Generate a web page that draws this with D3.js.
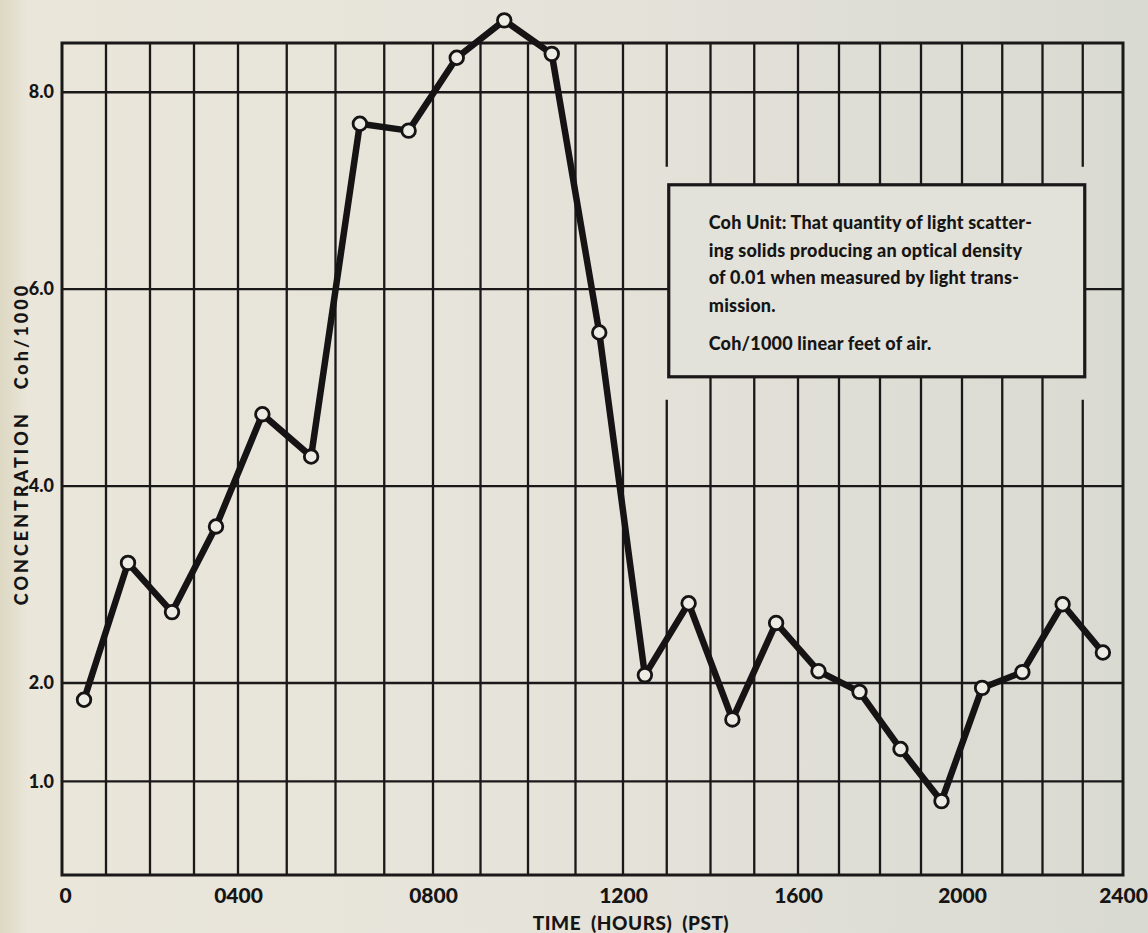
<!DOCTYPE html>
<html>
<head>
<meta charset="utf-8">
<script src="https://cdn.jsdelivr.net/npm/d3@7"></script>
<style>
  html, body { margin: 0; padding: 0; background: #e6e3da; }
  svg { display: block; }
  text { font-family: Lato, "DejaVu Sans", sans-serif; font-weight: 900; fill: #161515; }
</style>
</head>
<body>
<svg id="chart" width="1148" height="933"></svg>
<script>
// Hourly mean smoke concentration (Coh per 1000 linear feet), plotted at mid-hour
const hours = [0.5, 1.5, 2.5, 3.5, 4.5, 5.5, 6.5, 7.5, 8.5, 9.5, 10.5, 11.5,
               12.5, 13.5, 14.5, 15.5, 16.5, 17.5, 18.5, 19.5, 20.5, 21.5, 22.5, 23.5];
const cohValues = [1.83, 3.22, 2.72, 3.59, 4.73, 4.30, 7.68, 7.61, 8.35, 8.73, 8.39, 5.56,
                   2.08, 2.81, 1.63, 2.61, 2.12, 1.91, 1.33, 0.80, 1.95, 2.11, 2.80, 2.31];

// Axis ticks
const xTickHours = [0, 4, 8, 12, 16, 20, 24];
const xTickLabels = ["0", "0400", "0800", "1200", "1600", "2000", "2400"];
const yTickValues = [1, 2, 4, 6, 8];
const yTickLabels = ["1.0", "2.0", "4.0", "6.0", "8.0"];

// Note box text
const noteLines = [
  "Coh Unit: That quantity of light scatter-",
  "ing solids producing an optical density",
  "of 0.01 when measured by light trans-",
  "mission."
];
const noteLast = "Coh/1000 linear feet of air.";

const svg = d3.select("#chart");
const W = 1148, H = 933;

// paper tone
const defs = svg.append("defs");
const grad = defs.append("linearGradient").attr("id", "paper").attr("x1", 0).attr("x2", 1).attr("y1", 0).attr("y2", 0);
grad.append("stop").attr("offset", "0%").attr("stop-color", "#ddd8c2");
grad.append("stop").attr("offset", "2.5%").attr("stop-color", "#eae6da");
grad.append("stop").attr("offset", "45%").attr("stop-color", "#e6e3da");
grad.append("stop").attr("offset", "100%").attr("stop-color", "#d9dad2");
svg.append("rect").attr("width", W).attr("height", H).attr("fill", "url(#paper)");

// Hand-ruled grid: four-hour blocks are not quite evenly spaced
const x = d3.scaleLinear()
  .domain(xTickHours)
  .range([62, 238, 433, 623, 798, 962, 1123]);
const y = d3.scaleLinear().domain([0.05, 8.5]).range([875, 43]);

const ink = "#1a1818";
const g = svg.append("g");

// note box extent
const boxL = x(13) + 2, boxR = x(23) + 2;
const boxT = y(7.06), boxB = y(5.11);

// horizontal rules
yTickValues.forEach(v => {
  const segs = v === 6 ? [[x(0), boxL], [boxR, x(24)]] : [[x(0), x(24)]];
  segs.forEach(([a, b]) => {
    g.append("line").attr("x1", a).attr("x2", b).attr("y1", y(v)).attr("y2", y(v))
      .attr("stroke", ink).attr("stroke-width", 2.3);
  });
});

// vertical hourly rules
d3.range(1, 24).forEach(h => {
  const xx = x(h);
  let segs;
  if (h >= 14 && h <= 22) segs = [[y(8.5), boxT], [boxB, y(0.05)]];
  else if (h === 13 || h === 23) segs = [[y(8.5), boxT - 18], [boxB + 23, y(0.05)]];
  else segs = [[y(8.5), y(0.05)]];
  segs.forEach(([a, b]) => {
    g.append("line").attr("x1", xx).attr("x2", xx).attr("y1", a).attr("y2", b)
      .attr("stroke", ink).attr("stroke-width", 2.3);
  });
});

// frame
g.append("rect").attr("x", x(0)).attr("y", y(8.5))
  .attr("width", x(24) - x(0)).attr("height", y(0.05) - y(8.5))
  .attr("fill", "none").attr("stroke", ink).attr("stroke-width", 3);

// note box
g.append("rect").attr("x", boxL).attr("y", boxT).attr("width", boxR - boxL).attr("height", boxB - boxT)
  .attr("fill", "#e2e2da").attr("stroke", ink).attr("stroke-width", 3.2);
const note = g.append("g").attr("transform", `translate(${boxL + 40},0)`);
noteLines.forEach((t, i) => {
  note.append("text").attr("x", 0).attr("y", boxT + 44 + i * 27.8)
    .attr("font-size", 18).attr("letter-spacing", 0.2).text(t);
});
note.append("text").attr("x", 0).attr("y", boxT + 44 + 4 * 27.8 + 10)
  .attr("font-size", 18).attr("letter-spacing", 0.2).text(noteLast);

// x axis labels
const xAxis = d3.axisBottom(x).tickValues(xTickHours)
  .tickFormat((d, i) => xTickLabels[i]).tickSize(0).tickPadding(0);
const xa = svg.append("g").attr("transform", `translate(0,${y(0.05) + 28})`).call(xAxis);
xa.select(".domain").remove();
xa.selectAll("text").attr("font-size", 21).attr("dy", 0).attr("fill", "#161515")
  .attr("font-family", "Lato, sans-serif").attr("font-weight", 900);
xa.selectAll(".tick").filter(d => d === 0).select("text").attr("dx", 3);

// y axis labels
const yAxis = d3.axisLeft(y).tickValues(yTickValues)
  .tickFormat((d, i) => yTickLabels[i]).tickSize(0).tickPadding(0);
const ya = svg.append("g").attr("transform", `translate(${x(0) - 8},0)`).call(yAxis);
ya.select(".domain").remove();
ya.selectAll("text").attr("font-size", 18).attr("fill", "#161515")
  .attr("font-family", "Lato, sans-serif").attr("font-weight", 900);

// axis titles
svg.append("text").attr("x", 631).attr("y", 930).attr("text-anchor", "middle")
  .attr("font-size", 19).attr("letter-spacing", 0.5)
  .attr("xml:space", "preserve").text("TIME  (HOURS)  (PST)");
svg.append("text").attr("transform", "translate(28,444) rotate(-90)").attr("text-anchor", "middle")
  .attr("font-size", 18).attr("letter-spacing", 3)
  .attr("xml:space", "preserve").text("CONCENTRATION   Coh/1000");

// data line and markers
const line = d3.line().x((d, i) => x(hours[i])).y(d => y(d));
svg.append("path").datum(cohValues).attr("d", line)
  .attr("fill", "none").attr("stroke", "#151313").attr("stroke-width", 6.5)
  .attr("stroke-linejoin", "round");
svg.append("g").selectAll("circle").data(cohValues).join("circle")
  .attr("cx", (d, i) => x(hours[i])).attr("cy", d => y(d)).attr("r", 6.8)
  .attr("fill", "#ecebe4").attr("stroke", "#151313").attr("stroke-width", 2.8);
</script>
</body>
</html>
